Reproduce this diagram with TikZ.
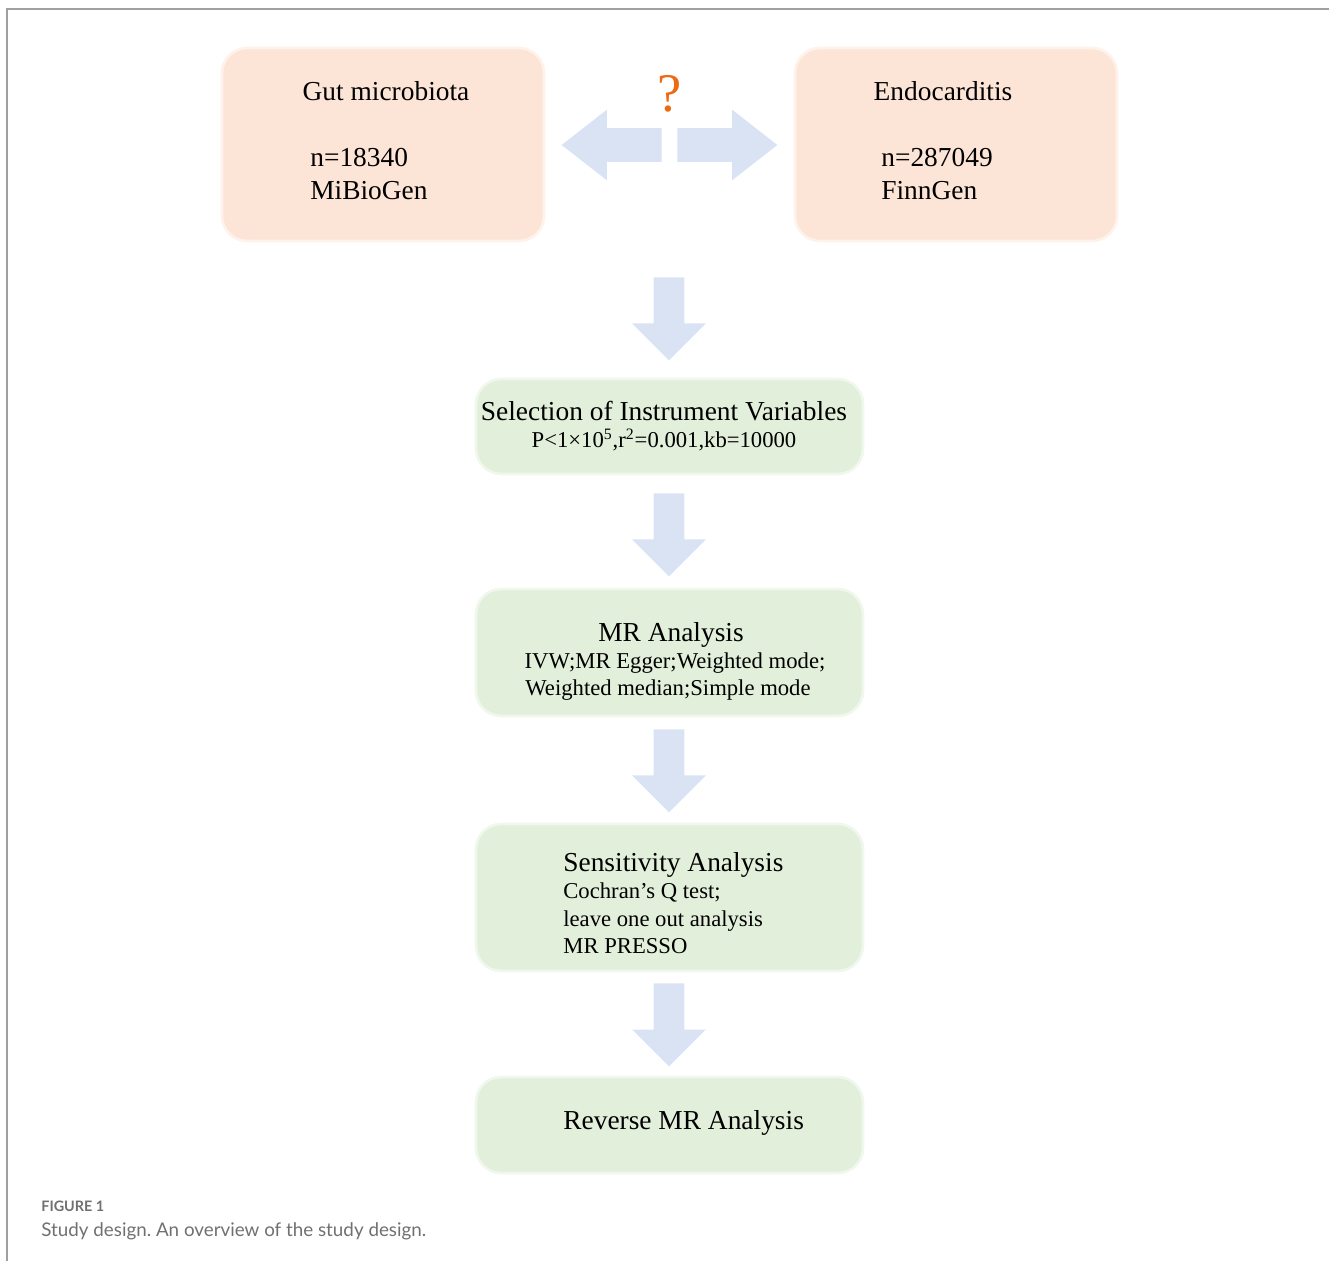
\documentclass[tikz,border=0pt]{standalone}
\usepackage{fontspec}
\setmainfont{Liberation Serif}
\newfontfamily\capfont{Lato}
\usepackage{xcolor}
\definecolor{mypeach}{HTML}{FCE4D6}
\definecolor{mygreen}{HTML}{E2EFDA}
\definecolor{myblue}{HTML}{DAE3F3}
\definecolor{myorange}{HTML}{EE6A10}
\definecolor{mygray}{HTML}{A0A0A0}
\definecolor{mytext}{HTML}{707070}
\usetikzlibrary{shapes.arrows}
\frenchspacing

\begin{document}
\begin{tikzpicture}[x=0.02cm, y=-0.02cm,
  box/.style = {rounded corners=0.5cm, inner sep=0, line width=1.5pt},
  peachbox/.style = {box, fill=mypeach, draw=mypeach!50!white, minimum width=6.44cm, minimum height=3.86cm},
  greenbox/.style = {box, fill=mygreen, draw=mygreen!50!white, minimum width=7.74cm},
  down/.style = {single arrow, fill=myblue, inner sep=0.3cm, minimum height=1.66cm,
    single arrow head extend=0.43cm, shape border rotate=270, anchor=tail},
  side/.style = {single arrow, fill=myblue, inner sep=0.33cm, minimum height=2cm,
    single arrow head extend=0.37cm, single arrow tip angle=76, anchor=tail},
  title/.style = {inner sep=0, font=\fontsize{15.6}{18}\selectfont},
  sub/.style = {inner sep=0, font=\fontsize{12.9}{15}\selectfont}]
	\useasboundingbox (0,0) rectangle (1329,1261);
	% frame
	\draw[mygray, line width=1.2pt] (7,1261) -- (7,9) -- (1329,9);
	% boxes
	\node[peachbox] (1) at (383,144.5) {};
	\node[peachbox] (2) at (956,144.5) {};
	\node[greenbox, minimum height=1.9cm] (3) at (669.5,426.5) {};
	\node[greenbox, minimum height=2.54cm] (4) at (669.5,652.5) {};
	\node[greenbox, minimum height=2.94cm] (5) at (669.5,897.5) {};
	\node[greenbox, minimum height=1.92cm] (6) at (669.5,1125) {};
	% arrows
	\node[side, shape border rotate=180] (l) at (662,145) {};
	\node[side] (r) at (677,145) {};
	\node[font=\fontsize{31}{36}\selectfont, text=myorange] (q) at (670,94) {?};
	\node[down] (a1) at (669,277) {};
	\node[down] (a2) at (669,493) {};
	\node[down] (a3) at (669,729) {};
	\node[down] (a4) at (669,983) {};
	% texts
	\node[title, anchor=base] (t1) at (386,100) {Gut microbiota};
	\node[title, anchor=base west] (n1) at (310,166) {n=18340};
	\node[title, anchor=base west] (s1) at (310,199) {MiBioGen};
	\node[title, anchor=base] (t2) at (943,100) {Endocarditis};
	\node[title, anchor=base west] (n2) at (881,166) {n=287049};
	\node[title, anchor=base west] (s2) at (881,199) {FinnGen};
	\node[title, anchor=base] (t3) at (664,420) {Selection of Instrument Variables};
	\node[sub, anchor=base] (p3) at (664,447) {P<1×10\textsuperscript{5},r\textsuperscript{2}=0.001,kb=10000};
	\node[title, anchor=base] (t4) at (671,641) {MR Analysis};
	\node[sub, anchor=base] (m4) at (675,668) {IVW;MR Egger;Weighted mode;};
	\node[sub, anchor=base] (w4) at (668,695) {Weighted median;Simple mode};
	\node[title, anchor=base west] (t5) at (563,871) {Sensitivity Analysis};
	\node[sub, anchor=base west] (c5) at (563,898) {Cochran’s Q test;};
	\node[sub, anchor=base west] (l5) at (563,926) {leave one out analysis};
	\node[sub, anchor=base west] (m5) at (563,953) {MR PRESSO};
	\node[title, anchor=base west] (t6) at (563,1129) {Reverse MR Analysis};
	% caption
	\node[anchor=base west, inner sep=0, text=mytext, font=\capfont\bfseries\fontsize{8.2}{9}\selectfont] (f) at (41,1211) {FIGURE 1};
	\node[anchor=base west, inner sep=0, text=mytext, font=\capfont\fontsize{10.7}{12}\selectfont] (c) at (41,1236) {Study design. An overview of the study design.};
\end{tikzpicture}
\end{document}
